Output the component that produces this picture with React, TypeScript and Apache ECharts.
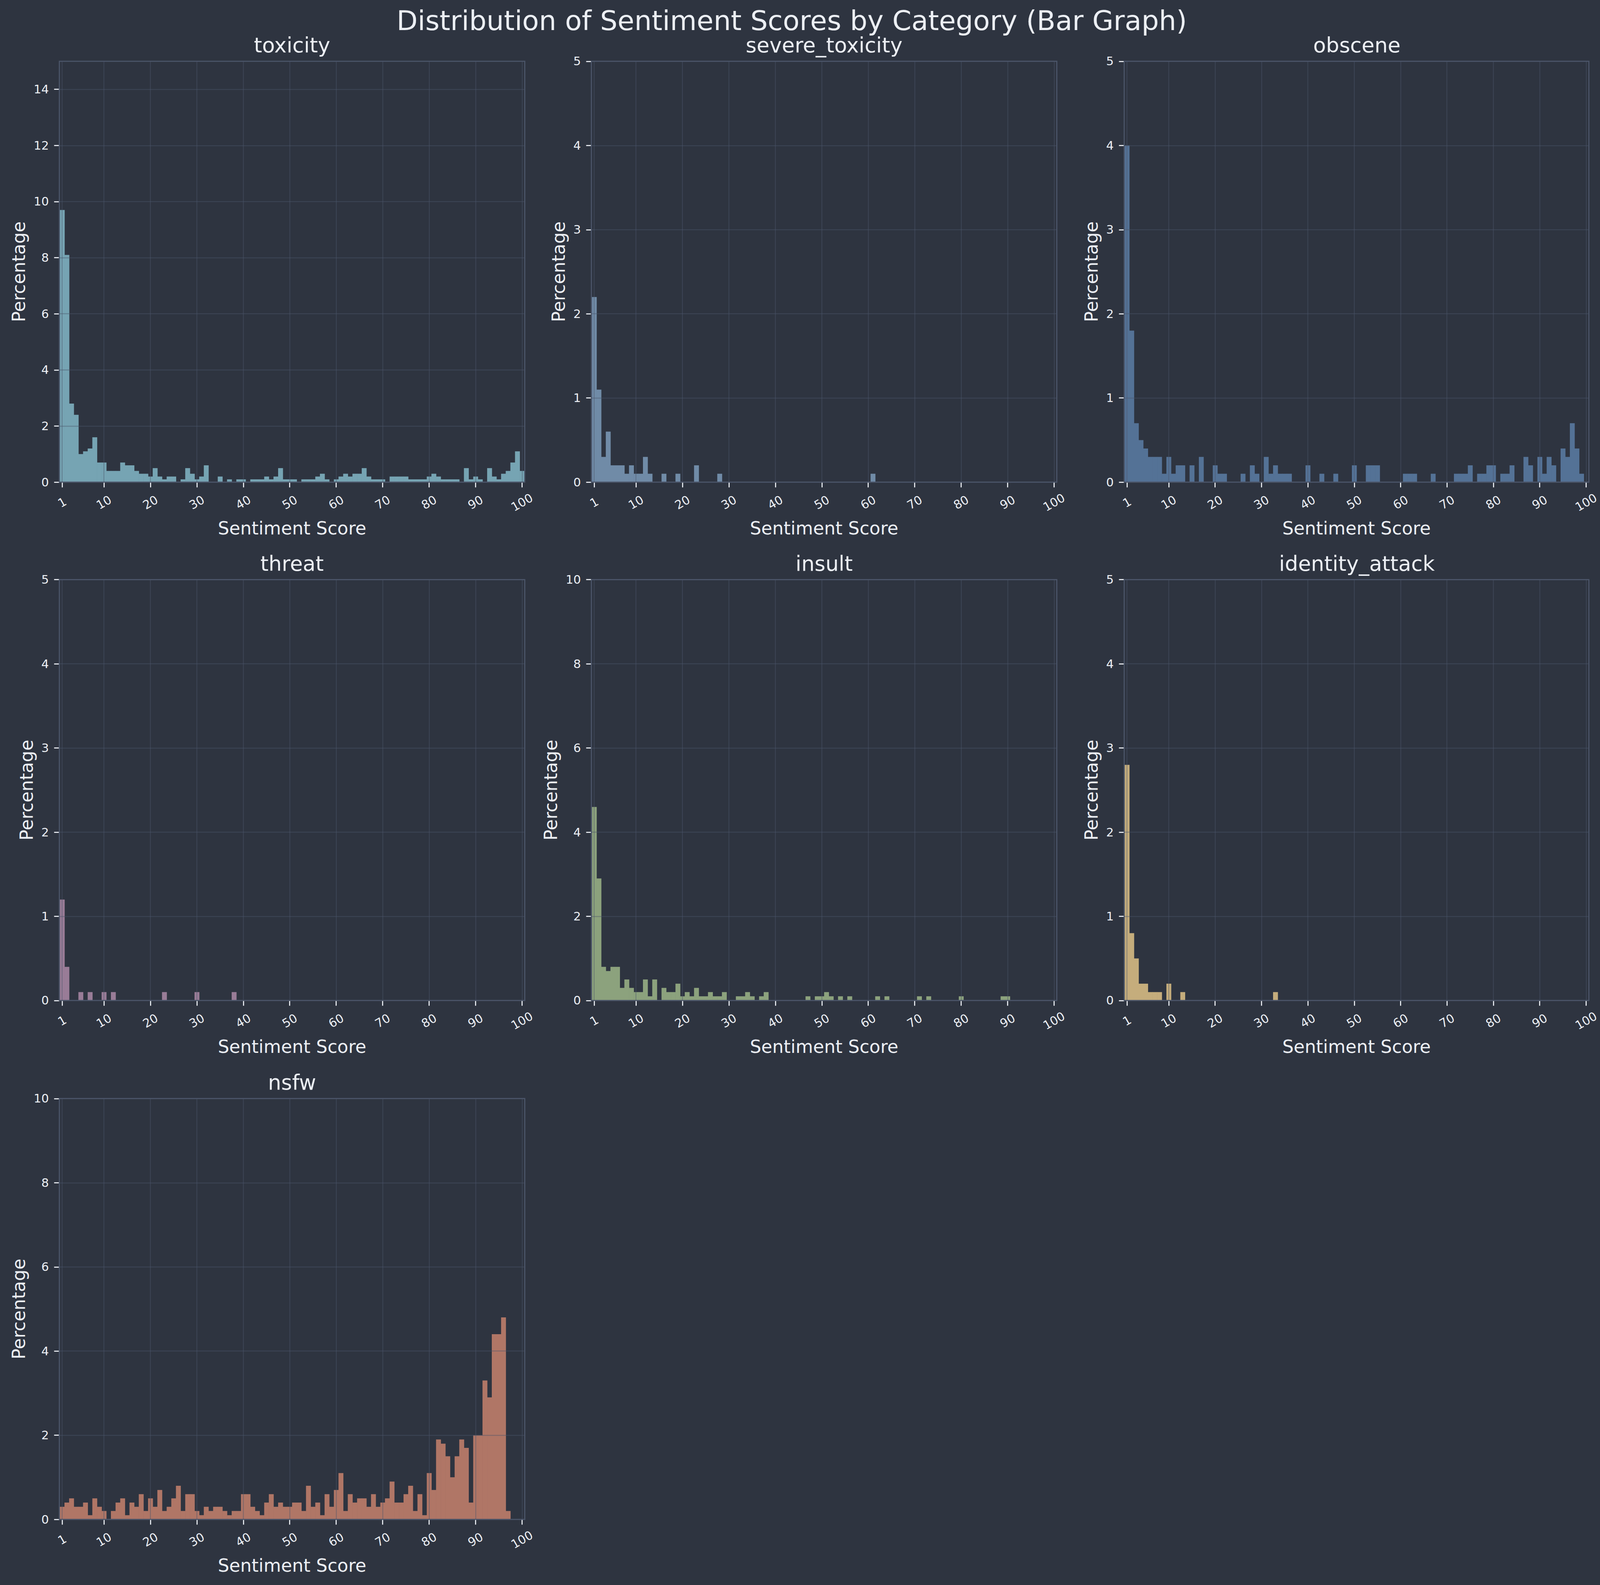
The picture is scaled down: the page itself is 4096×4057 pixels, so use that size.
import React, { useEffect, useRef } from "react";
import * as echarts from "echarts";

// ---------------- data ----------------
const categories = [
  "toxicity",
  "severe_toxicity",
  "obscene",
  "threat",
  "insult",
  "identity_attack",
  "nsfw",
];

// sentiment score bins 1..100
const scoreBins = Array.from({ length: 100 }, (_, i) => i + 1);

const toxicity = [
  9.7, 8.1, 2.8, 2.4, 1.0, 1.1, 1.2, 1.6, 0.7, 0.7,
  0.4, 0.4, 0.4, 0.7, 0.6, 0.6, 0.4, 0.3, 0.3, 0.2,
  0.5, 0.2, 0.1, 0.2, 0.2, 0, 0.1, 0.5, 0.3, 0.1,
  0.2, 0.6, 0, 0, 0.2, 0, 0.1, 0, 0.1, 0.1,
  0, 0.1, 0.1, 0.1, 0.2, 0.1, 0.2, 0.5, 0.1, 0.1,
  0.1, 0, 0.1, 0.1, 0.1, 0.2, 0.3, 0.1, 0, 0.1,
  0.2, 0.3, 0.2, 0.3, 0.3, 0.5, 0.2, 0.1, 0.1, 0.1,
  0, 0.2, 0.2, 0.2, 0.2, 0.1, 0.1, 0.1, 0.1, 0.2,
  0.3, 0.2, 0.1, 0.1, 0.1, 0.1, 0, 0.5, 0.1, 0.2,
  0.1, 0, 0.5, 0.2, 0.1, 0.3, 0.4, 0.7, 1.1, 0.4,
];

const severeToxicity = [
  2.2, 1.1, 0.3, 0.6, 0.2, 0.2, 0.2, 0.1, 0.2, 0.1,
  0.1, 0.3, 0.1, 0, 0, 0.1, 0, 0, 0.1, 0,
  0, 0, 0.2, 0, 0, 0, 0, 0.1, 0, 0,
  0, 0, 0, 0, 0, 0, 0, 0, 0, 0,
  0, 0, 0, 0, 0, 0, 0, 0, 0, 0,
  0, 0, 0, 0, 0, 0, 0, 0, 0, 0,
  0.1, 0, 0, 0, 0, 0, 0, 0, 0, 0,
  0, 0, 0, 0, 0, 0, 0, 0, 0, 0,
  0, 0, 0, 0, 0, 0, 0, 0, 0, 0,
  0, 0, 0, 0, 0, 0, 0, 0, 0, 0,
];

const obscene = [
  4.0, 1.8, 0.7, 0.5, 0.4, 0.3, 0.3, 0.3, 0.1, 0.3,
  0.1, 0.2, 0.2, 0, 0.2, 0, 0.3, 0, 0, 0.2,
  0.1, 0.1, 0, 0, 0, 0.1, 0, 0.2, 0.1, 0,
  0.3, 0.1, 0.2, 0.1, 0.1, 0.1, 0, 0, 0, 0.2,
  0, 0, 0.1, 0, 0, 0.1, 0, 0, 0, 0.2,
  0, 0, 0.2, 0.2, 0.2, 0, 0, 0, 0, 0,
  0.1, 0.1, 0.1, 0, 0, 0, 0.1, 0, 0, 0,
  0, 0.1, 0.1, 0.1, 0.2, 0, 0.1, 0.1, 0.2, 0.2,
  0, 0.1, 0.1, 0.2, 0, 0, 0.3, 0.2, 0, 0.3,
  0.1, 0.3, 0.2, 0, 0.4, 0.3, 0.7, 0.4, 0.1, 0,
];

const threat = [
  1.2, 0.4, 0, 0, 0.1, 0, 0.1, 0, 0, 0.1,
  0, 0.1, 0, 0, 0, 0, 0, 0, 0, 0,
  0, 0, 0.1, 0, 0, 0, 0, 0, 0, 0.1,
  0, 0, 0, 0, 0, 0, 0, 0.1, 0, 0,
  0, 0, 0, 0, 0, 0, 0, 0, 0, 0,
  0, 0, 0, 0, 0, 0, 0, 0, 0, 0,
  0, 0, 0, 0, 0, 0, 0, 0, 0, 0,
  0, 0, 0, 0, 0, 0, 0, 0, 0, 0,
  0, 0, 0, 0, 0, 0, 0, 0, 0, 0,
  0, 0, 0, 0, 0, 0, 0, 0, 0, 0,
];

const insult = [
  4.6, 2.9, 0.8, 0.7, 0.8, 0.8, 0.3, 0.5, 0.3, 0.2,
  0.2, 0.5, 0.1, 0.5, 0, 0.3, 0.2, 0.2, 0.4, 0.1,
  0.2, 0.1, 0.3, 0.1, 0.1, 0.2, 0.1, 0.1, 0.2, 0,
  0, 0.1, 0.1, 0.2, 0.1, 0, 0.1, 0.2, 0, 0,
  0, 0, 0, 0, 0, 0, 0.1, 0, 0.1, 0.1,
  0.2, 0.1, 0, 0.1, 0, 0.1, 0, 0, 0, 0,
  0, 0.1, 0, 0.1, 0, 0, 0, 0, 0, 0,
  0.1, 0, 0.1, 0, 0, 0, 0, 0, 0, 0.1,
  0, 0, 0, 0, 0, 0, 0, 0, 0.1, 0.1,
  0, 0, 0, 0, 0, 0, 0, 0, 0, 0,
];

const identityAttack = [
  2.8, 0.8, 0.5, 0.2, 0.2, 0.1, 0.1, 0.1, 0, 0.2,
  0, 0, 0.1, 0, 0, 0, 0, 0, 0, 0,
  0, 0, 0, 0, 0, 0, 0, 0, 0, 0,
  0, 0, 0.1, 0, 0, 0, 0, 0, 0, 0,
  0, 0, 0, 0, 0, 0, 0, 0, 0, 0,
  0, 0, 0, 0, 0, 0, 0, 0, 0, 0,
  0, 0, 0, 0, 0, 0, 0, 0, 0, 0,
  0, 0, 0, 0, 0, 0, 0, 0, 0, 0,
  0, 0, 0, 0, 0, 0, 0, 0, 0, 0,
  0, 0, 0, 0, 0, 0, 0, 0, 0, 0,
];

const nsfw = [
  0.3, 0.4, 0.5, 0.3, 0.3, 0.4, 0.1, 0.5, 0.3, 0.2,
  0, 0.2, 0.4, 0.5, 0.1, 0.4, 0.3, 0.6, 0.2, 0.5,
  0.3, 0.7, 0.2, 0.3, 0.5, 0.8, 0.2, 0.6, 0.6, 0.2,
  0.1, 0.3, 0.2, 0.3, 0.3, 0.2, 0.1, 0.2, 0.2, 0.6,
  0.6, 0.3, 0.2, 0.1, 0.4, 0.6, 0.3, 0.4, 0.3, 0.3,
  0.4, 0.4, 0.2, 0.8, 0.3, 0.4, 0.1, 0.6, 0.3, 0.7,
  1.1, 0.2, 0.6, 0.4, 0.5, 0.5, 0.3, 0.6, 0.3, 0.4,
  0.5, 0.9, 0.4, 0.4, 0.6, 0.8, 0.2, 0.6, 0.1, 1.1,
  0.7, 1.9, 1.8, 1.5, 1.0, 1.5, 1.9, 1.7, 0.4, 2.0,
  2.0, 3.3, 2.9, 4.4, 4.4, 4.8, 0.2, 0, 0, 0,
];

const panelValues = [toxicity, severeToxicity, obscene, threat, insult, identityAttack, nsfw];

const xTickValues = [1, 10, 20, 30, 40, 50, 60, 70, 80, 90, 100];
const yTicks15 = [0, 2, 4, 6, 8, 10, 12, 14];
const yTicks5 = [0, 1, 2, 3, 4, 5];
const yTicks10 = [0, 2, 4, 6, 8, 10];
const panelYTicks = [yTicks15, yTicks5, yTicks5, yTicks5, yTicks10, yTicks5, yTicks10];
const panelYMax = [15, 5, 5, 5, 10, 5, 10];

// Nord colours at alpha 0.8 over the #2e3440 background
const barColors = [
  "rgb(118,164,179)",
  "rgb(112,139,167)",
  "rgb(84,114,150)",
  "rgb(153,124,151)",
  "rgb(140,162,125)",
  "rgb(197,173,124)",
  "rgb(176,118,102)",
];

const mainTitle = "Distribution of Sentiment Scores by Category (Bar Graph)";
const xAxisTitle = "Sentiment Score";
const yAxisTitle = "Percentage";

// ---------------- layout ----------------
const W = 4096;
const H = 4057;
const S = 4096 / 4464;
const FONT = "'DejaVu Sans', sans-serif";
const BG = "#2e3440";
const TEXT = "#eceff4";
const GRIDLINE = "rgba(76,86,106,0.45)";
const SPINE = "#4c566a";

const colLeft = [165.6, 1650, 3136.5].map((v) => v * S);
const rowTop = [171, 1617, 3064.5].map((v) => v * S);
const plotW = 1298.5 * S;
const plotH = 1174 * S;

const tickFont = 33.3 * S;
const labelFont = 50 * S;
const subTitleFont = 58.3 * S;
const mainTitleFont = 76.4 * S;
const tickLen = 14.6 * S;
const tickPad = 14.6 * S;
const labelPad = 16.7 * S;

export default function App() {
  const ref = useRef<HTMLDivElement>(null);

  useEffect(() => {
    document.body.style.margin = "0";
    document.body.style.background = BG;
    if (!ref.current) return;
    const chart = echarts.init(ref.current, undefined, { renderer: "svg" });

    const grids: any[] = [];
    const xAxes: any[] = [];
    const yAxes: any[] = [];
    const series: any[] = [];
    const graphics: any[] = [];

    categories.forEach((cat, i) => {
      const col = i % 3;
      const row = Math.floor(i / 3);
      const left = colLeft[col];
      const top = rowTop[row];
      grids.push({
        left,
        top,
        width: plotW,
        height: plotH,
        show: true,
        backgroundColor: "transparent",
        borderColor: SPINE,
        borderWidth: 3 * S,
        containLabel: false,
        z: 6,
      });

      const maxLabelChars = String(panelYTicks[i][panelYTicks[i].length - 1]).length;
      const labelW = maxLabelChars * 0.636 * tickFont;
      const yNameGap = tickLen + tickPad + labelW + labelPad + 0.582 * labelFont - labelFont / 2 - 4;

      const w100 = 3 * 0.636 * tickFont;
      const hText = 1.164 * tickFont;
      const rotH100 = w100 * 0.5 + hText * 0.866;
      const w10 = 2 * 0.636 * tickFont;
      const rotH10 = w10 * 0.5 + hText * 0.866;
      const xNameGap = tickLen + tickPad + rotH100 + labelPad + 0.582 * labelFont - labelFont / 2 - 11;
      const xLabelMargin = tickLen + tickPad + rotH10 / 2;

      xAxes.push({
        gridIndex: i,
        type: "value",
        min: 0.4,
        max: 100.6,
        z: 5,
        axisLine: { show: false, onZero: false },
        axisTick: {
          show: true,
          customValues: xTickValues,
          length: tickLen,
          lineStyle: { color: TEXT, width: 3 * S },
        },
        axisLabel: {
          show: true,
          customValues: xTickValues,
          rotate: 30,
          align: "center",
          verticalAlign: "middle",
          margin: xLabelMargin,
          fontSize: tickFont,
          fontFamily: FONT,
          color: TEXT,
        },
        splitLine: { show: true, lineStyle: { color: GRIDLINE, width: 2.5 * S } },
        name: xAxisTitle,
        nameLocation: "middle",
        nameGap: xNameGap,
        nameTextStyle: { fontSize: labelFont, fontFamily: FONT, color: TEXT },
      });

      yAxes.push({
        gridIndex: i,
        type: "value",
        min: 0,
        max: panelYMax[i],
        z: 5,
        axisLine: { show: false, onZero: false },
        axisTick: {
          show: true,
          customValues: panelYTicks[i],
          length: tickLen,
          lineStyle: { color: TEXT, width: 3 * S },
        },
        axisLabel: {
          show: true,
          customValues: panelYTicks[i],
          margin: tickLen + tickPad,
          fontSize: tickFont,
          fontFamily: FONT,
          color: TEXT,
        },
        splitLine: { show: true, lineStyle: { color: GRIDLINE, width: 2.5 * S } },
        name: yAxisTitle,
        nameLocation: "middle",
        nameGap: yNameGap,
        nameTextStyle: { fontSize: labelFont, fontFamily: FONT, color: TEXT },
      });

      const color = barColors[i];
      const data = panelValues[i]
        .map((v, j) => [scoreBins[j], v])
        .filter((d) => d[1] > 0);

      series.push({
        type: "custom",
        name: cat,
        xAxisIndex: i,
        yAxisIndex: i,
        z: 2,
        data,
        renderItem: (params: any, api: any) => {
          const x = api.value(0);
          const y = api.value(1);
          const a = api.coord([x - 0.5, y]);
          const b = api.coord([x + 0.5, 0]);
          return {
            type: "rect",
            shape: { x: a[0], y: a[1], width: b[0] - a[0] + 0.6, height: b[1] - a[1] },
            style: { fill: color, stroke: null },
          };
        },
      });

      graphics.push({
        type: "text",
        x: left + plotW / 2,
        y: top - 45.2 * S,
        style: {
          text: cat,
          fontSize: subTitleFont,
          fontFamily: FONT,
          fill: TEXT,
          align: "center",
          verticalAlign: "middle",
          textAlign: "center",
          textVerticalAlign: "middle",
        },
      });
    });

    graphics.push({
      type: "text",
      x: 2209 * S,
      y: 61 * S - 3,
      style: {
        text: mainTitle,
        fontSize: mainTitleFont,
        fontFamily: FONT,
        fill: TEXT,
        align: "center",
        verticalAlign: "middle",
        textAlign: "center",
        textVerticalAlign: "middle",
      },
    });

    chart.setOption({
      animation: false,
      backgroundColor: BG,
      textStyle: { fontFamily: FONT },
      grid: grids,
      xAxis: xAxes,
      yAxis: yAxes,
      series,
      graphic: graphics,
    });

    return () => chart.dispose();
  }, []);

  return <div ref={ref} style={{ width: W, height: H, background: BG }} />;
}
